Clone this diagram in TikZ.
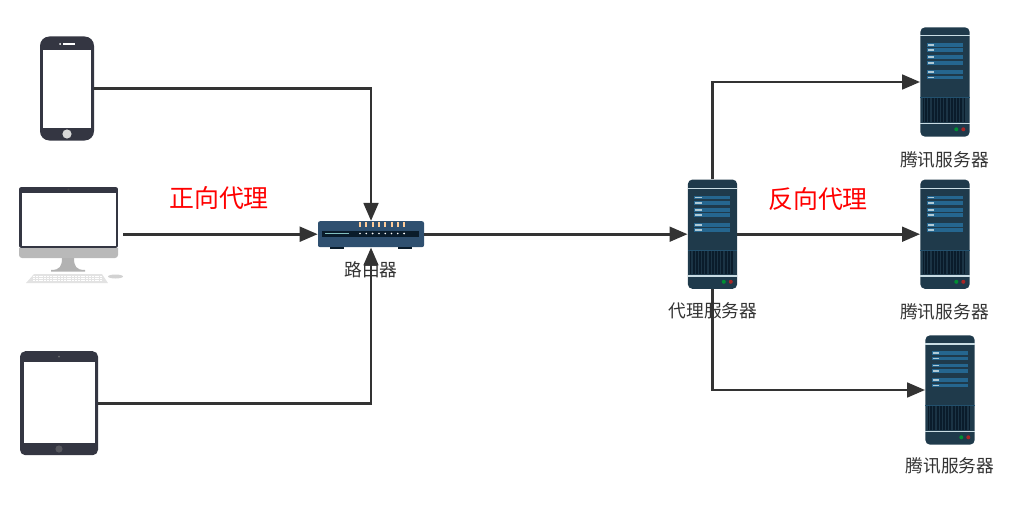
\documentclass[tikz,border=0pt]{standalone}
\usepackage{fontspec}
\setmainfont{Noto Sans CJK SC}
\usetikzlibrary{arrows.meta}
\definecolor{devdark}{HTML}{343642}
\definecolor{srv}{HTML}{1F3A4B}
\definecolor{srvline}{HTML}{C9DCE3}
\definecolor{stripe}{HTML}{25668F}
\definecolor{vent}{HTML}{0A1C2B}
\definecolor{rout}{HTML}{2F5070}
\definecolor{linec}{HTML}{333333}
\newcommand{\srvdetail}[2]{%
  \begin{scope}[shift={(#1,#2)}]
    \fill[srvline] (-24.7,-47) rectangle (24.7,-45.5);
    \foreach \yy in {-37,-31.6,-24.6,-19.2,-9.8,-4.5} {
      \fill[stripe] (-18.3,\yy-1.9) rectangle (17.5,\yy+1.9);
      \fill[srvline!85!stripe] (-17.3,\yy-0.9) rectangle (-10.7,\yy+0.9);
    }
    \fill[stripe!50!srv] (-24.7,15) rectangle (24.7,16);
    \fill[vent] (-22.5,16) rectangle (20,39.7);
    \foreach \xx in {-20.5,-17.3,...,19} { \fill[srv!80!vent] (\xx-0.6,16) rectangle (\xx+0.6,39.7); }
    \fill[srvline] (-24.7,40.7) rectangle (24.7,42);
    \fill[green!45!black!80!cyan] (11.3,47.3) circle (2);
    \fill[red!60!black!85!white] (18.3,47.3) circle (2);
  \end{scope}}
\tikzset{
  dev/.style={fill=devdark,draw=none,inner sep=0pt,minimum width=#1},
  srvbox/.style={fill=srv,draw=none,rounded corners=3.5pt,inner sep=0pt,minimum width=37pt,minimum height=82pt},
  conn/.style={draw=linec,line width=2.1pt,-{Triangle[length=13.5pt,width=11pt]}},
  lab/.style={text=linec,font=\fontsize{13.3pt}{15pt}\selectfont,inner sep=0pt},
  big/.style={text=red,font=\fontsize{18.7pt}{22pt}\selectfont,inner sep=0pt},
}
\begin{document}
\begin{tikzpicture}[x=0.75pt,y=-0.75pt]
\useasboundingbox (0,0) rectangle (1024,510);
% phone
\node[dev=40.5pt,minimum height=78pt,rounded corners=7pt] (phone) at (67,88.5) {};
\fill[white] (43,50) rectangle (91,127.5);
\fill[white] (60,44) circle (1);
\fill[white] (63,43.5) rectangle (75,44.7);
\fill[gray!30] (67,134) circle (4.6);
% desktop
\node[fill=devdark,inner sep=0pt,minimum width=74.2pt,minimum height=45.5pt,rounded corners=1.5pt] (monitor) at (68.5,217.5) {};
\fill[white] (22,192.5) rectangle (115.5,246);
\fill[black!70] (68.3,189.5) circle (1);
\fill[gray!55] (19,248) -- (118,248) -- (118,255) arc (0:90:3) -- (22,258) arc (90:180:3) -- cycle;
\fill[gray!60] (62,258) -- (74,258) .. controls (74,266) and (76,270) .. (85,270) -- (85,271.5) -- (51,271.5) -- (51,270) .. controls (60,270) and (62,266) .. (62,258) -- cycle;
\fill[gray!22] (34,274) -- (102,274) -- (108,283) -- (26,283) -- cycle;
\foreach \kk in {276,278.5,280.5} \draw[white,line width=.5pt,dash pattern=on 1.5pt off .6pt] (33,\kk) -- (102,\kk);
\fill[gray!35] (115.5,276.5) ellipse (7.5 and 2);
\coordinate (deskout) at (123,234.2);
% tablet
\node[dev=58.5pt,minimum height=78pt,rounded corners=4pt] (tablet) at (59,403.2) {};
\fill[white] (23.5,362) rectangle (94.5,443);
\fill[gray!70!devdark] (59,356.5) circle (1);
\fill[gray!45!devdark] (59,449) circle (3.6);
% router
\node[fill=rout,inner sep=0pt,minimum width=79.5pt,minimum height=19.5pt,rounded corners=1.5pt] (router) at (371,234.2) {};
\fill[vent] (330,247) rectangle (344,248.5);
\fill[vent] (398,247) rectangle (412,248.5);
\fill[vent] (322,230.5) rectangle (419,236.5);
\fill[teal!50!white] (325,232.8) rectangle (349,234);
\foreach \nn in {0,...,7} {
  \fill[orange!40!white] (360+\nn*6.3-1,221.5) rectangle (360+\nn*6.3+1,226.5);
  \fill[white] (360+\nn*6.3,233.5) circle (0.9);
}
% servers
\node[srvbox] (proxy) at (712.5,234.2) {};
\srvdetail{712.5}{234.5}
\node[srvbox] (s1) at (945,82) {};
\srvdetail{945}{82}
\node[srvbox] (s2) at (945,234.2) {};
\srvdetail{945}{234.5}
\node[srvbox] (s3) at (950,390) {};
\srvdetail{950}{390}
% connectors
\draw[conn] (phone.east) -| (router.north);
\draw[conn] (deskout) -- (router.west);
\draw[conn] (tablet.east) -| (router.south);
\draw[conn] (router.east) -- (proxy.west);
\draw[conn] (proxy.north) |- (s1.west);
\draw[conn] (proxy.east) -- (s2.west);
\draw[conn] (proxy.south) |- (s3.west);
% labels
\node[lab] (lr) at (371,270) {路由器};
\node[lab] (lp) at (713,311) {代理服务器};
\node[lab] (l1) at (944.5,159.5) {腾讯服务器};
\node[lab] (l2) at (944.5,311.5) {腾讯服务器};
\node[lab] (l3) at (950,466) {腾讯服务器};
\node[big] (fw) at (219,198) {正向代理};
\node[big] (rv) at (818,199) {反向代理};
\end{tikzpicture}
\end{document}
